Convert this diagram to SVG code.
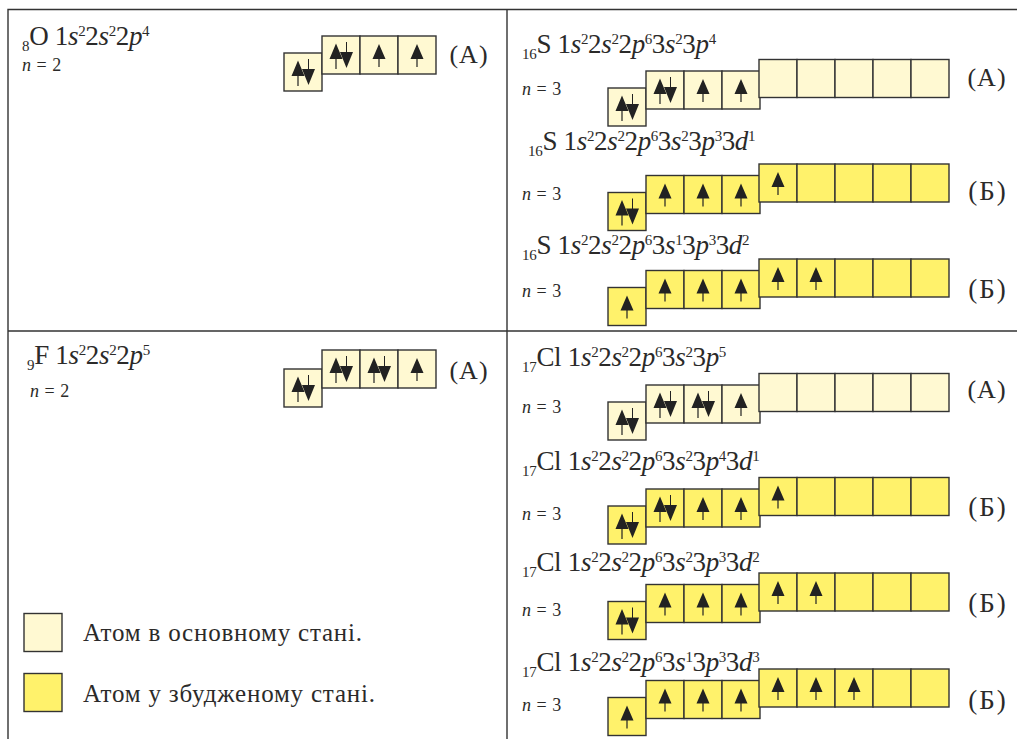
<svg xmlns="http://www.w3.org/2000/svg" width="1017" height="739" viewBox="0 0 1017 739">
<style>
text{font-family:"Liberation Serif","Times New Roman",serif;fill:#2b2a29}
.f{font-size:27px;letter-spacing:-.3px}
.i{font-style:italic}
.sup{font-size:15px;letter-spacing:-.5px}
.sub{font-size:15px}
.n{font-size:18px;word-spacing:1px}
.l{font-size:26px;text-anchor:middle;letter-spacing:1px}
.b{font-size:27px;letter-spacing:2px}
.t{font-size:25px;letter-spacing:.8px}
.pale{fill:#fff9d2}
.yel{fill:#fff26b}
.c rect{stroke:#333;stroke-width:1.4}
.g{fill:none;stroke:#333;stroke-width:1.4}
</style>
<defs>
<g id="u"><path d="M0 8 6.500 23H.6V31H-.6V23H-6.500Z" fill="#222"/></g>
<g id="pair"><path d="M-5 7.500 1.500 23H-4.400V33H-5.600V23H-11.500Z" fill="#222"/><path d="M5 6H6V16H12L5.500 32-1 16H5Z" fill="#222"/></g>
<g id="row9" class="c">
<rect x="0" y="17" width="38" height="38"/>
<rect x="38" y="0" width="38" height="38"/><rect x="76" y="0" width="38" height="38"/><rect x="114" y="0" width="38" height="38"/>
<rect x="151" y="-11.500" width="38" height="38"/><rect x="189" y="-11.500" width="38" height="38"/><rect x="227" y="-11.500" width="38" height="38"/><rect x="265" y="-11.500" width="38" height="38"/><rect x="303" y="-11.500" width="38" height="38"/>
</g>
<g id="cell" class="c"><rect x="0" y="0" width="38" height="38"/></g>
<g id="p3" class="c"><rect x="0" y="0" width="38" height="38"/><rect x="38" y="0" width="38" height="38"/><rect x="76" y="0" width="38" height="38"/></g>
</defs>

<g id="table" class="g">
<path d="M8 739V9.500H1017M507 9.500V739M8 331H1017"/>
</g>

<g id="oxygen">
<text class="f" x="22" y="45"><tspan class="sub" dy="6">8</tspan><tspan dy="-6">O 1</tspan><tspan class="i">s</tspan><tspan class="sup" dy="-9">2</tspan><tspan dy="9">2</tspan><tspan class="i">s</tspan><tspan class="sup" dy="-9">2</tspan><tspan dy="9">2</tspan><tspan class="i">p</tspan><tspan class="sup" dy="-9">4</tspan></text>
<text class="n" x="22" y="71"><tspan class="i">n</tspan> = 2</text>
<use href="#cell" class="pale" x="284" y="53"/><use href="#p3" class="pale" x="322" y="36"/>
<use href="#pair" x="303" y="53"/><use href="#pair" x="341" y="36"/><use href="#u" x="379" y="36"/><use href="#u" x="417" y="36"/>
<text class="l" x="469" y="63">(А)</text>
</g>

<g id="fluorine">
<text class="f" x="27" y="364"><tspan class="sub" dy="6">9</tspan><tspan dy="-6">F 1</tspan><tspan class="i">s</tspan><tspan class="sup" dy="-9">2</tspan><tspan dy="9">2</tspan><tspan class="i">s</tspan><tspan class="sup" dy="-9">2</tspan><tspan dy="9">2</tspan><tspan class="i">p</tspan><tspan class="sup" dy="-9">5</tspan></text>
<text class="n" x="30" y="397"><tspan class="i">n</tspan> = 2</text>
<use href="#cell" class="pale" x="284" y="369"/><use href="#p3" class="pale" x="322" y="350"/>
<use href="#pair" x="303" y="369"/><use href="#pair" x="341" y="350"/><use href="#pair" x="379" y="350"/><use href="#u" x="417" y="350"/>
<text class="l" x="469" y="379">(А)</text>
</g>

<g id="legend-ground">
<use href="#cell" class="pale" x="24" y="613.500"/>
<text class="t" x="83" y="641">Атом в основному стані.</text>
</g>
<g id="legend-excited">
<use href="#cell" class="yel" x="24" y="673.500"/>
<text class="t" x="83" y="702">Атом у збудженому стані.</text>
</g>

<g id="s-a">
<text class="f" x="522" y="53"><tspan class="sub" dy="6">16</tspan><tspan dy="-6">S 1</tspan><tspan class="i">s</tspan><tspan class="sup" dy="-9">2</tspan><tspan dy="9">2</tspan><tspan class="i">s</tspan><tspan class="sup" dy="-9">2</tspan><tspan dy="9">2</tspan><tspan class="i">p</tspan><tspan class="sup" dy="-9">6</tspan><tspan dy="9">3</tspan><tspan class="i">s</tspan><tspan class="sup" dy="-9">2</tspan><tspan dy="9">3</tspan><tspan class="i">p</tspan><tspan class="sup" dy="-9">4</tspan></text>
<text class="n" x="522" y="95"><tspan class="i">n</tspan> = 3</text>
<use href="#row9" class="pale" x="608" y="71"/>
<use href="#pair" x="627" y="88"/><use href="#pair" x="665" y="71"/><use href="#u" x="703" y="71"/><use href="#u" x="741" y="71"/>
<text class="l" x="987" y="86">(А)</text>
</g>

<g id="s-b1">
<text class="f" x="528" y="150"><tspan class="sub" dy="6">16</tspan><tspan dy="-6">S 1</tspan><tspan class="i">s</tspan><tspan class="sup" dy="-9">2</tspan><tspan dy="9">2</tspan><tspan class="i">s</tspan><tspan class="sup" dy="-9">2</tspan><tspan dy="9">2</tspan><tspan class="i">p</tspan><tspan class="sup" dy="-9">6</tspan><tspan dy="9">3</tspan><tspan class="i">s</tspan><tspan class="sup" dy="-9">2</tspan><tspan dy="9">3</tspan><tspan class="i">p</tspan><tspan class="sup" dy="-9">3</tspan><tspan dy="9">3</tspan><tspan class="i">d</tspan><tspan class="sup" dy="-9">1</tspan></text>
<text class="n" x="522" y="200"><tspan class="i">n</tspan> = 3</text>
<use href="#row9" class="yel" x="608" y="175.500"/>
<use href="#pair" x="627" y="192.500"/><use href="#u" x="665" y="175.500"/><use href="#u" x="703" y="175.500"/><use href="#u" x="741" y="175.500"/><use href="#u" x="778" y="164"/>
<text class="l b" x="988" y="200">(Б)</text>
</g>

<g id="s-b2">
<text class="f" x="522" y="254"><tspan class="sub" dy="6">16</tspan><tspan dy="-6">S 1</tspan><tspan class="i">s</tspan><tspan class="sup" dy="-9">2</tspan><tspan dy="9">2</tspan><tspan class="i">s</tspan><tspan class="sup" dy="-9">2</tspan><tspan dy="9">2</tspan><tspan class="i">p</tspan><tspan class="sup" dy="-9">6</tspan><tspan dy="9">3</tspan><tspan class="i">s</tspan><tspan class="sup" dy="-9">1</tspan><tspan dy="9">3</tspan><tspan class="i">p</tspan><tspan class="sup" dy="-9">3</tspan><tspan dy="9">3</tspan><tspan class="i">d</tspan><tspan class="sup" dy="-9">2</tspan></text>
<text class="n" x="522" y="297"><tspan class="i">n</tspan> = 3</text>
<use href="#row9" class="yel" x="608" y="270.500"/>
<use href="#u" x="627" y="287.500"/><use href="#u" x="665" y="270.500"/><use href="#u" x="703" y="270.500"/><use href="#u" x="741" y="270.500"/><use href="#u" x="778" y="259"/><use href="#u" x="816" y="259"/>
<text class="l b" x="988" y="298">(Б)</text>
</g>

<g id="cl-a">
<text class="f" x="522" y="366"><tspan class="sub" dy="6">17</tspan><tspan dy="-6">Cl 1</tspan><tspan class="i">s</tspan><tspan class="sup" dy="-9">2</tspan><tspan dy="9">2</tspan><tspan class="i">s</tspan><tspan class="sup" dy="-9">2</tspan><tspan dy="9">2</tspan><tspan class="i">p</tspan><tspan class="sup" dy="-9">6</tspan><tspan dy="9">3</tspan><tspan class="i">s</tspan><tspan class="sup" dy="-9">2</tspan><tspan dy="9">3</tspan><tspan class="i">p</tspan><tspan class="sup" dy="-9">5</tspan></text>
<text class="n" x="522" y="413"><tspan class="i">n</tspan> = 3</text>
<use href="#row9" class="pale" x="608" y="385"/>
<use href="#pair" x="627" y="402"/><use href="#pair" x="665" y="385"/><use href="#pair" x="703" y="385"/><use href="#u" x="741" y="385"/>
<text class="l" x="987" y="398">(А)</text>
</g>

<g id="cl-b1">
<text class="f" x="522" y="470"><tspan class="sub" dy="6">17</tspan><tspan dy="-6">Cl 1</tspan><tspan class="i">s</tspan><tspan class="sup" dy="-9">2</tspan><tspan dy="9">2</tspan><tspan class="i">s</tspan><tspan class="sup" dy="-9">2</tspan><tspan dy="9">2</tspan><tspan class="i">p</tspan><tspan class="sup" dy="-9">6</tspan><tspan dy="9">3</tspan><tspan class="i">s</tspan><tspan class="sup" dy="-9">2</tspan><tspan dy="9">3</tspan><tspan class="i">p</tspan><tspan class="sup" dy="-9">4</tspan><tspan dy="9">3</tspan><tspan class="i">d</tspan><tspan class="sup" dy="-9">1</tspan></text>
<text class="n" x="522" y="520"><tspan class="i">n</tspan> = 3</text>
<use href="#row9" class="yel" x="608" y="489"/>
<use href="#pair" x="627" y="506"/><use href="#pair" x="665" y="489"/><use href="#u" x="703" y="489"/><use href="#u" x="741" y="489"/><use href="#u" x="778" y="477.500"/>
<text class="l b" x="988" y="516">(Б)</text>
</g>

<g id="cl-b2">
<text class="f" x="522" y="571"><tspan class="sub" dy="6">17</tspan><tspan dy="-6">Cl 1</tspan><tspan class="i">s</tspan><tspan class="sup" dy="-9">2</tspan><tspan dy="9">2</tspan><tspan class="i">s</tspan><tspan class="sup" dy="-9">2</tspan><tspan dy="9">2</tspan><tspan class="i">p</tspan><tspan class="sup" dy="-9">6</tspan><tspan dy="9">3</tspan><tspan class="i">s</tspan><tspan class="sup" dy="-9">2</tspan><tspan dy="9">3</tspan><tspan class="i">p</tspan><tspan class="sup" dy="-9">3</tspan><tspan dy="9">3</tspan><tspan class="i">d</tspan><tspan class="sup" dy="-9">2</tspan></text>
<text class="n" x="522" y="616"><tspan class="i">n</tspan> = 3</text>
<use href="#row9" class="yel" x="608" y="584.500"/>
<use href="#pair" x="627" y="601.500"/><use href="#u" x="665" y="584.500"/><use href="#u" x="703" y="584.500"/><use href="#u" x="741" y="584.500"/><use href="#u" x="778" y="573"/><use href="#u" x="816" y="573"/>
<text class="l b" x="988" y="612">(Б)</text>
</g>

<g id="cl-b3">
<text class="f" x="522" y="671"><tspan class="sub" dy="6">17</tspan><tspan dy="-6">Cl 1</tspan><tspan class="i">s</tspan><tspan class="sup" dy="-9">2</tspan><tspan dy="9">2</tspan><tspan class="i">s</tspan><tspan class="sup" dy="-9">2</tspan><tspan dy="9">2</tspan><tspan class="i">p</tspan><tspan class="sup" dy="-9">6</tspan><tspan dy="9">3</tspan><tspan class="i">s</tspan><tspan class="sup" dy="-9">1</tspan><tspan dy="9">3</tspan><tspan class="i">p</tspan><tspan class="sup" dy="-9">3</tspan><tspan dy="9">3</tspan><tspan class="i">d</tspan><tspan class="sup" dy="-9">3</tspan></text>
<text class="n" x="522" y="711"><tspan class="i">n</tspan> = 3</text>
<use href="#row9" class="yel" x="608" y="680.500"/>
<use href="#u" x="627" y="697.500"/><use href="#u" x="665" y="680.500"/><use href="#u" x="703" y="680.500"/><use href="#u" x="741" y="680.500"/><use href="#u" x="778" y="669"/><use href="#u" x="816" y="669"/><use href="#u" x="854" y="669"/>
<text class="l b" x="988" y="709">(Б)</text>
</g>
</svg>
